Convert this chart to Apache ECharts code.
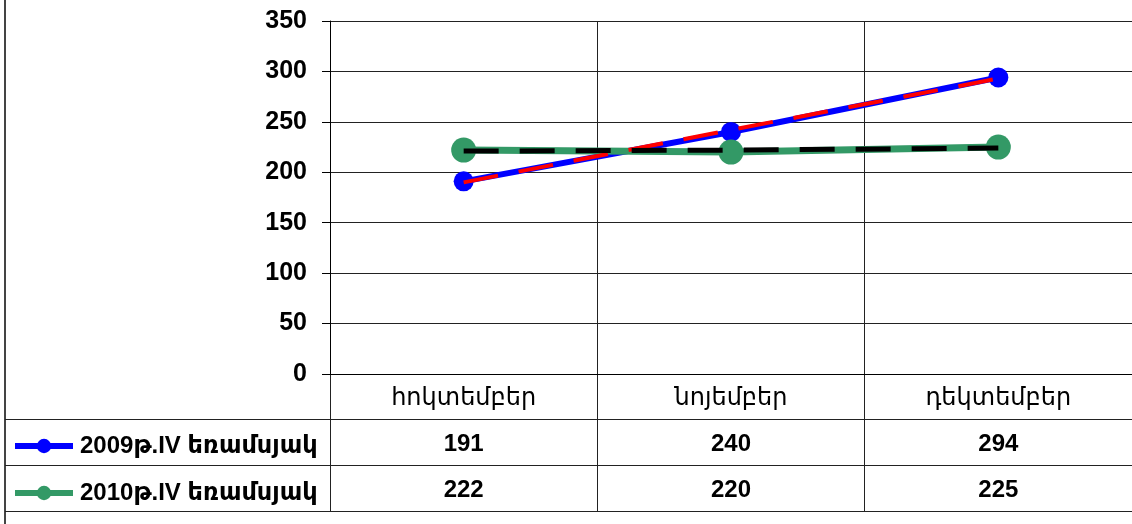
<!DOCTYPE html>
<html>
<head>
<meta charset="utf-8">
<script src="https://cdn.jsdelivr.net/npm/echarts@6/dist/echarts.min.js"></script>
<style>
  html, body { margin: 0; padding: 0; background: #fff; }
  #lineChar { width: 1132px; height: 524px; }
</style>
</head>
<body>
<div id="lineChar"></div>
<script>
// months
const categories = ['հոկտեմբեր', 'նոյեմբեր', 'դեկտեմբեր']
const seriesNames = ['2009թ.IV եռամսյակ', '2010թ.IV եռամսյակ']
const values2009 = [191, 240, 294]
const values2010 = [222, 220, 225]
// trend lines
const trend2009 = [190, 242, 293]
const trend2010 = [221, 222, 224]
const yTicks = [0, 50, 100, 150, 200, 250, 300, 350]

const FONT = "'Liberation Sans', 'DejaVu Sans', Arial, sans-serif"
const tableRows = ['', seriesNames[0], seriesNames[1]]

// table cells: [column, row, text]
let headCells = []
let valueCells = []
categories.forEach((c, i) => {
  headCells.push([i, 0, c])
  valueCells.push([i, 1, values2009[i]])
  valueCells.push([i, 2, values2010[i]])
})

function tableSeries (name, data, weight) {
  return {
    name: name,
    type: 'scatter',
    xAxisIndex: 1,
    yAxisIndex: 1,
    data: data,
    symbolSize: 1,
    itemStyle: { color: 'rgba(0,0,0,0)', opacity: 1 },
    label: {
      show: true,
      position: 'inside',
      offset: [0, 2],
      formatter: (p) => String(p.value[2]),
      fontSize: 24,
      fontWeight: weight,
      color: '#000',
      fontFamily: FONT
    },
    silent: true
  }
}

let myChar = echarts.init(document.getElementById('lineChar'))
myChar.setOption({
  animation: false,
  textStyle: { fontFamily: FONT },
  graphic: [
    { type: 'line', shape: { x1: 5, y1: 0, x2: 5, y2: 524 }, style: { stroke: '#444', lineWidth: 2 } }
  ],
  legend: {
    data: seriesNames,
    orient: 'vertical',
    left: 7,
    top: 429,
    itemWidth: 58,
    itemHeight: 18,
    itemGap: 23,
    lineStyle: { width: 6 },
    textStyle: { fontSize: 24, fontWeight: 'bold', color: '#000', fontFamily: FONT, padding: [0, 0, 0, 2] }
  },
  grid: [
    { left: 330, right: -5, top: 21, height: 353 },
    { left: 330, right: -5, top: 374, height: 137 }
  ],
  xAxis: [
    {
      type: 'category',
      gridIndex: 0,
      data: categories,
      boundaryGap: true,
      axisLine: { lineStyle: { color: '#000', width: 1 } },
      axisTick: { show: false },
      axisLabel: { show: false },
      splitLine: { show: true, interval: 0, lineStyle: { color: '#222', width: 1 } }
    },
    {
      type: 'category',
      gridIndex: 1,
      data: categories,
      boundaryGap: true,
      axisLine: { show: false },
      axisTick: { show: false },
      axisLabel: { show: false },
      splitLine: { show: true, interval: 0, lineStyle: { color: '#222', width: 1 } }
    }
  ],
  yAxis: [
    {
      type: 'value',
      gridIndex: 0,
      min: yTicks[0],
      max: yTicks[yTicks.length - 1],
      interval: 50,
      axisLine: { show: true, lineStyle: { color: '#000', width: 1 } },
      axisTick: { show: true, length: 8, lineStyle: { color: '#000' } },
      axisLabel: { fontSize: 25, fontWeight: 'bold', color: '#000', margin: 23, fontFamily: FONT },
      splitLine: { show: true, lineStyle: { color: '#222', width: 1 } }
    },
    {
      type: 'category',
      gridIndex: 1,
      data: tableRows,
      inverse: true,
      axisLine: { show: false },
      axisLabel: { show: false },
      axisTick: {
        show: true,
        length: 325,
        interval: (idx) => idx > 0,
        lineStyle: { color: '#222', width: 1 }
      },
      splitLine: { show: true, interval: 0, lineStyle: { color: '#222', width: 1 } }
    }
  ],
  series: [
    {
      name: seriesNames[0],
      type: 'line',
      data: values2009,
      color: '#0000ff',
      symbol: 'circle',
      symbolSize: 20,
      lineStyle: { width: 6, color: '#0000ff' },
      itemStyle: { color: '#0000ff' }
    },
    {
      name: seriesNames[1],
      type: 'line',
      data: values2010,
      color: '#339966',
      symbol: 'circle',
      symbolSize: 25,
      lineStyle: { width: 7, color: '#339966' },
      itemStyle: { color: '#339966' }
    },
    {
      name: 'trend2009',
      type: 'line',
      data: trend2009,
      z: 5,
      symbol: 'none',
      lineStyle: { width: 4, color: '#ff0000', type: [35, 21] }
    },
    {
      name: 'trend2010',
      type: 'line',
      data: trend2010,
      z: 5,
      symbol: 'none',
      lineStyle: { width: 5, color: '#000', type: [35, 21] }
    },
    tableSeries('tableHead', headCells, 'normal'),
    tableSeries('tableValues', valueCells, 'bold')
  ]
})
</script>
</body>
</html>
